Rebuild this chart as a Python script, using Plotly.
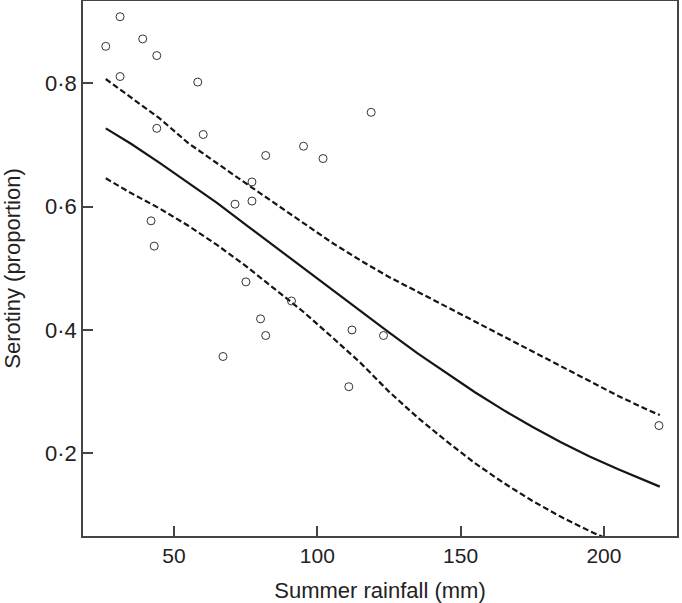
import plotly.graph_objects as go

# Observed sites: summer rainfall (mm) vs serotiny (proportion)
rain_mm = [26.2, 31.2, 39.1, 44.0, 31.2, 58.3, 44.0, 60.2, 95.2, 82.0, 102.0, 77.2,
           71.3, 77.2, 42.0, 43.1, 75.1, 118.8, 91.0, 80.2, 82.0, 67.1, 112.1,
           123.1, 111.0, 219.2]
serotiny = [0.860, 0.908, 0.872, 0.845, 0.811, 0.802, 0.727, 0.717, 0.698, 0.683,
            0.678, 0.640, 0.604, 0.609, 0.577, 0.536, 0.478, 0.753, 0.447, 0.418,
            0.391, 0.357, 0.400, 0.391, 0.308, 0.245]

# Fitted curve and confidence limits
curve_x = [26.2, 35, 45, 55, 65, 75, 85, 95, 105, 115, 125, 135, 145, 155, 165,
           175, 185, 195, 205, 215, 219.5]
fit_y = [0.727, 0.702, 0.671, 0.639, 0.606, 0.571, 0.536, 0.501, 0.465, 0.430,
         0.396, 0.362, 0.330, 0.299, 0.270, 0.243, 0.218, 0.195, 0.174, 0.154, 0.146]
upper_y = [0.807, 0.777, 0.743, 0.703, 0.670, 0.638, 0.606, 0.574, 0.542, 0.513,
           0.486, 0.462, 0.438, 0.413, 0.389, 0.365, 0.341, 0.317, 0.293, 0.271, 0.262]
lower_y = [0.646, 0.622, 0.597, 0.569, 0.538, 0.504, 0.467, 0.430, 0.389, 0.347,
           0.300, 0.258, 0.220, 0.184, 0.152, 0.123, 0.097, 0.074, 0.053, 0.034, 0.026]

x_ticks = [50, 100, 150, 200]
y_ticks = [0.2, 0.4, 0.6, 0.8]
y_ticktext = ["0·2", "0·4", "0·6", "0·8"]

fig = go.Figure()
fig.add_trace(go.Scatter(x=curve_x, y=upper_y, mode="lines",
                         line=dict(color="#151515", width=2.2, dash="6px,3px"),
                         hoverinfo="skip"))
fig.add_trace(go.Scatter(x=curve_x, y=lower_y, mode="lines",
                         line=dict(color="#151515", width=2.2, dash="6px,3px"),
                         hoverinfo="skip"))
fig.add_trace(go.Scatter(x=curve_x, y=fit_y, mode="lines",
                         line=dict(color="#151515", width=2.2)))
fig.add_trace(go.Scatter(x=rain_mm, y=serotiny, mode="markers",
                         marker=dict(symbol="circle-open", size=8,
                                     color="#333333", line=dict(width=1))))

font_family = "Liberation Sans, Arial, sans-serif"
fig.update_layout(
    width=682, height=603,
    margin=dict(l=83, r=5, t=1, b=67),
    paper_bgcolor="white", plot_bgcolor="white",
    showlegend=False,
    font=dict(family=font_family, size=21, color="#222222"),
    xaxis=dict(range=[18.26, 225.5], tickvals=x_ticks, ticks="inside",
               ticklen=10, tickcolor="#444444", tickwidth=1.5,
               showline=True, linecolor="#444444", linewidth=1.5, mirror=True,
               showgrid=False, zeroline=False, automargin=False,
               title=dict(text="Summer rainfall (mm)", font=dict(size=22), standoff=18),
               tickfont=dict(size=21)),
    yaxis=dict(range=[0.0659, 0.9335], tickvals=y_ticks, ticktext=y_ticktext,
               ticks="inside", ticklen=10, tickcolor="#444444", tickwidth=1.5,
               showline=True, linecolor="#444444", linewidth=1.5, mirror=True,
               showgrid=False, zeroline=False, automargin=False,
               title=dict(text="Serotiny (proportion)", font=dict(size=22), standoff=18),
               tickfont=dict(size=22)),
)

fig.write_html("out.html", config={"displayModeBar": False},
               post_script="document.body.style.margin='0';document.body.style.padding='0';document.body.style.overflow='hidden';")
